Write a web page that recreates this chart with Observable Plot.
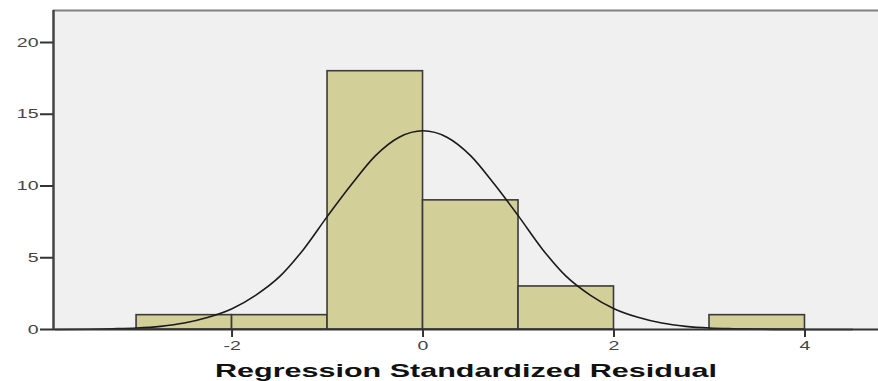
<!DOCTYPE html>
<html><head><meta charset="utf-8">
<script src="https://cdn.jsdelivr.net/npm/d3@7"></script>
<script src="https://cdn.jsdelivr.net/npm/@observablehq/plot@0.6"></script>
<style>body{margin:0;background:#fff}</style>
</head><body><div id="chart"></div>
<script>
// Histogram bins (Regression Standardized Residual) and frequencies
const binStart = [-3, -2, -1, 0, 1, 2, 3];
const binEnd   = [-2, -1, 0, 1, 2, 3, 4];
const counts   = [1, 1, 18, 9, 3, 0, 1];

// Normal curve
const curveX = [-3.85, -3.5, -3.25, -3, -2.75, -2.5, -2.25, -2, -1.75, -1.5, -1.25, -1, -0.75, -0.5, -0.25, 0, 0.25, 0.5, 0.75, 1, 1.25, 1.5, 1.75, 2, 2.25, 2.5, 2.75, 3, 3.25, 3.5, 3.75, 4, 4.5];
const curveY = [0.0, 0.02, 0.05, 0.1, 0.22, 0.45, 0.85, 1.45, 2.4, 3.7, 5.6, 7.9, 10.1, 12.1, 13.4, 13.85, 13.4, 12.1, 10.1, 7.9, 5.6, 3.7, 2.4, 1.45, 0.85, 0.45, 0.22, 0.1, 0.05, 0.02, 0.0, 0.0, 0.0];

const xTicks = [-2, 0, 2, 4];
const yTicks = [0, 5, 10, 15, 20];
const xDomain = [-3.87, 4.77];
const yDomain = [0, 22.23];
const xLabel = "Regression Standardized Residual";

const bars = binStart.map((s, i) => ({x1: s, x2: binEnd[i], y: counts[i]})).filter(d => d.y > 0);
const curve = curveX.map((x, i) => ({x, y: curveY[i]}));

const chart = Plot.plot({
  width: 878, height: 381,
  marginLeft: 53, marginRight: 0, marginTop: 10, marginBottom: 52,
  style: {background: "#fff", fontFamily: "'Liberation Sans', Arial, sans-serif", fontSize: "13px", color: "#333"},
  x: {domain: xDomain, label: null},
  y: {domain: yDomain, label: null},
  marks: [
    Plot.frame({fill: "#f0f0f0", stroke: null}),
    Plot.rectY(bars, {x1: "x1", x2: "x2", y: "y", fill: "#d3cf98", stroke: "#3a3a3a", strokeWidth: 1.6}),
    Plot.line(curve, {x: "x", y: "y", curve: "monotone-x", stroke: "#1a1a1a", strokeWidth: 1.6}),
    Plot.ruleY([yDomain[0]], {stroke: "#333", strokeWidth: 2}),
    Plot.ruleY([yDomain[1]], {stroke: "#808080", strokeWidth: 2}),
    Plot.ruleX([xDomain[0]], {stroke: "#444", strokeWidth: 2.5}),
    Plot.axisX({ticks: xTicks, tickFormat: d => String(d), tickSize: 8, tickPadding: 3, stroke: "#333", strokeWidth: 2, label: xLabel, labelAnchor: "center", labelOffset: 47, fill: "#444"}),
    Plot.axisY({ticks: yTicks, tickFormat: d => String(d), tickSize: 13, tickPadding: 2, stroke: "#333", strokeWidth: 2, label: null, fill: "#444"})
  ]
});
document.getElementById("chart").appendChild(chart);

// SPSS export is stretched horizontally: widen tick labels and the axis label
chart.querySelectorAll("g[aria-label='x-axis tick label'] text, g[aria-label='y-axis tick label'] text").forEach(t => {
  const w = t.getComputedTextLength();
  t.setAttribute("textLength", w * 1.5);
  t.setAttribute("lengthAdjust", "spacingAndGlyphs");
});
chart.querySelectorAll("g[aria-label='x-axis label'] text").forEach(t => {
  t.textContent = xLabel;
  t.style.fontSize = "18.5px";
  t.style.fontWeight = "bold";
  t.setAttribute("fill", "#111");
  t.setAttribute("textLength", 502);
  t.setAttribute("lengthAdjust", "spacingAndGlyphs");
});
</script>
</body></html>
